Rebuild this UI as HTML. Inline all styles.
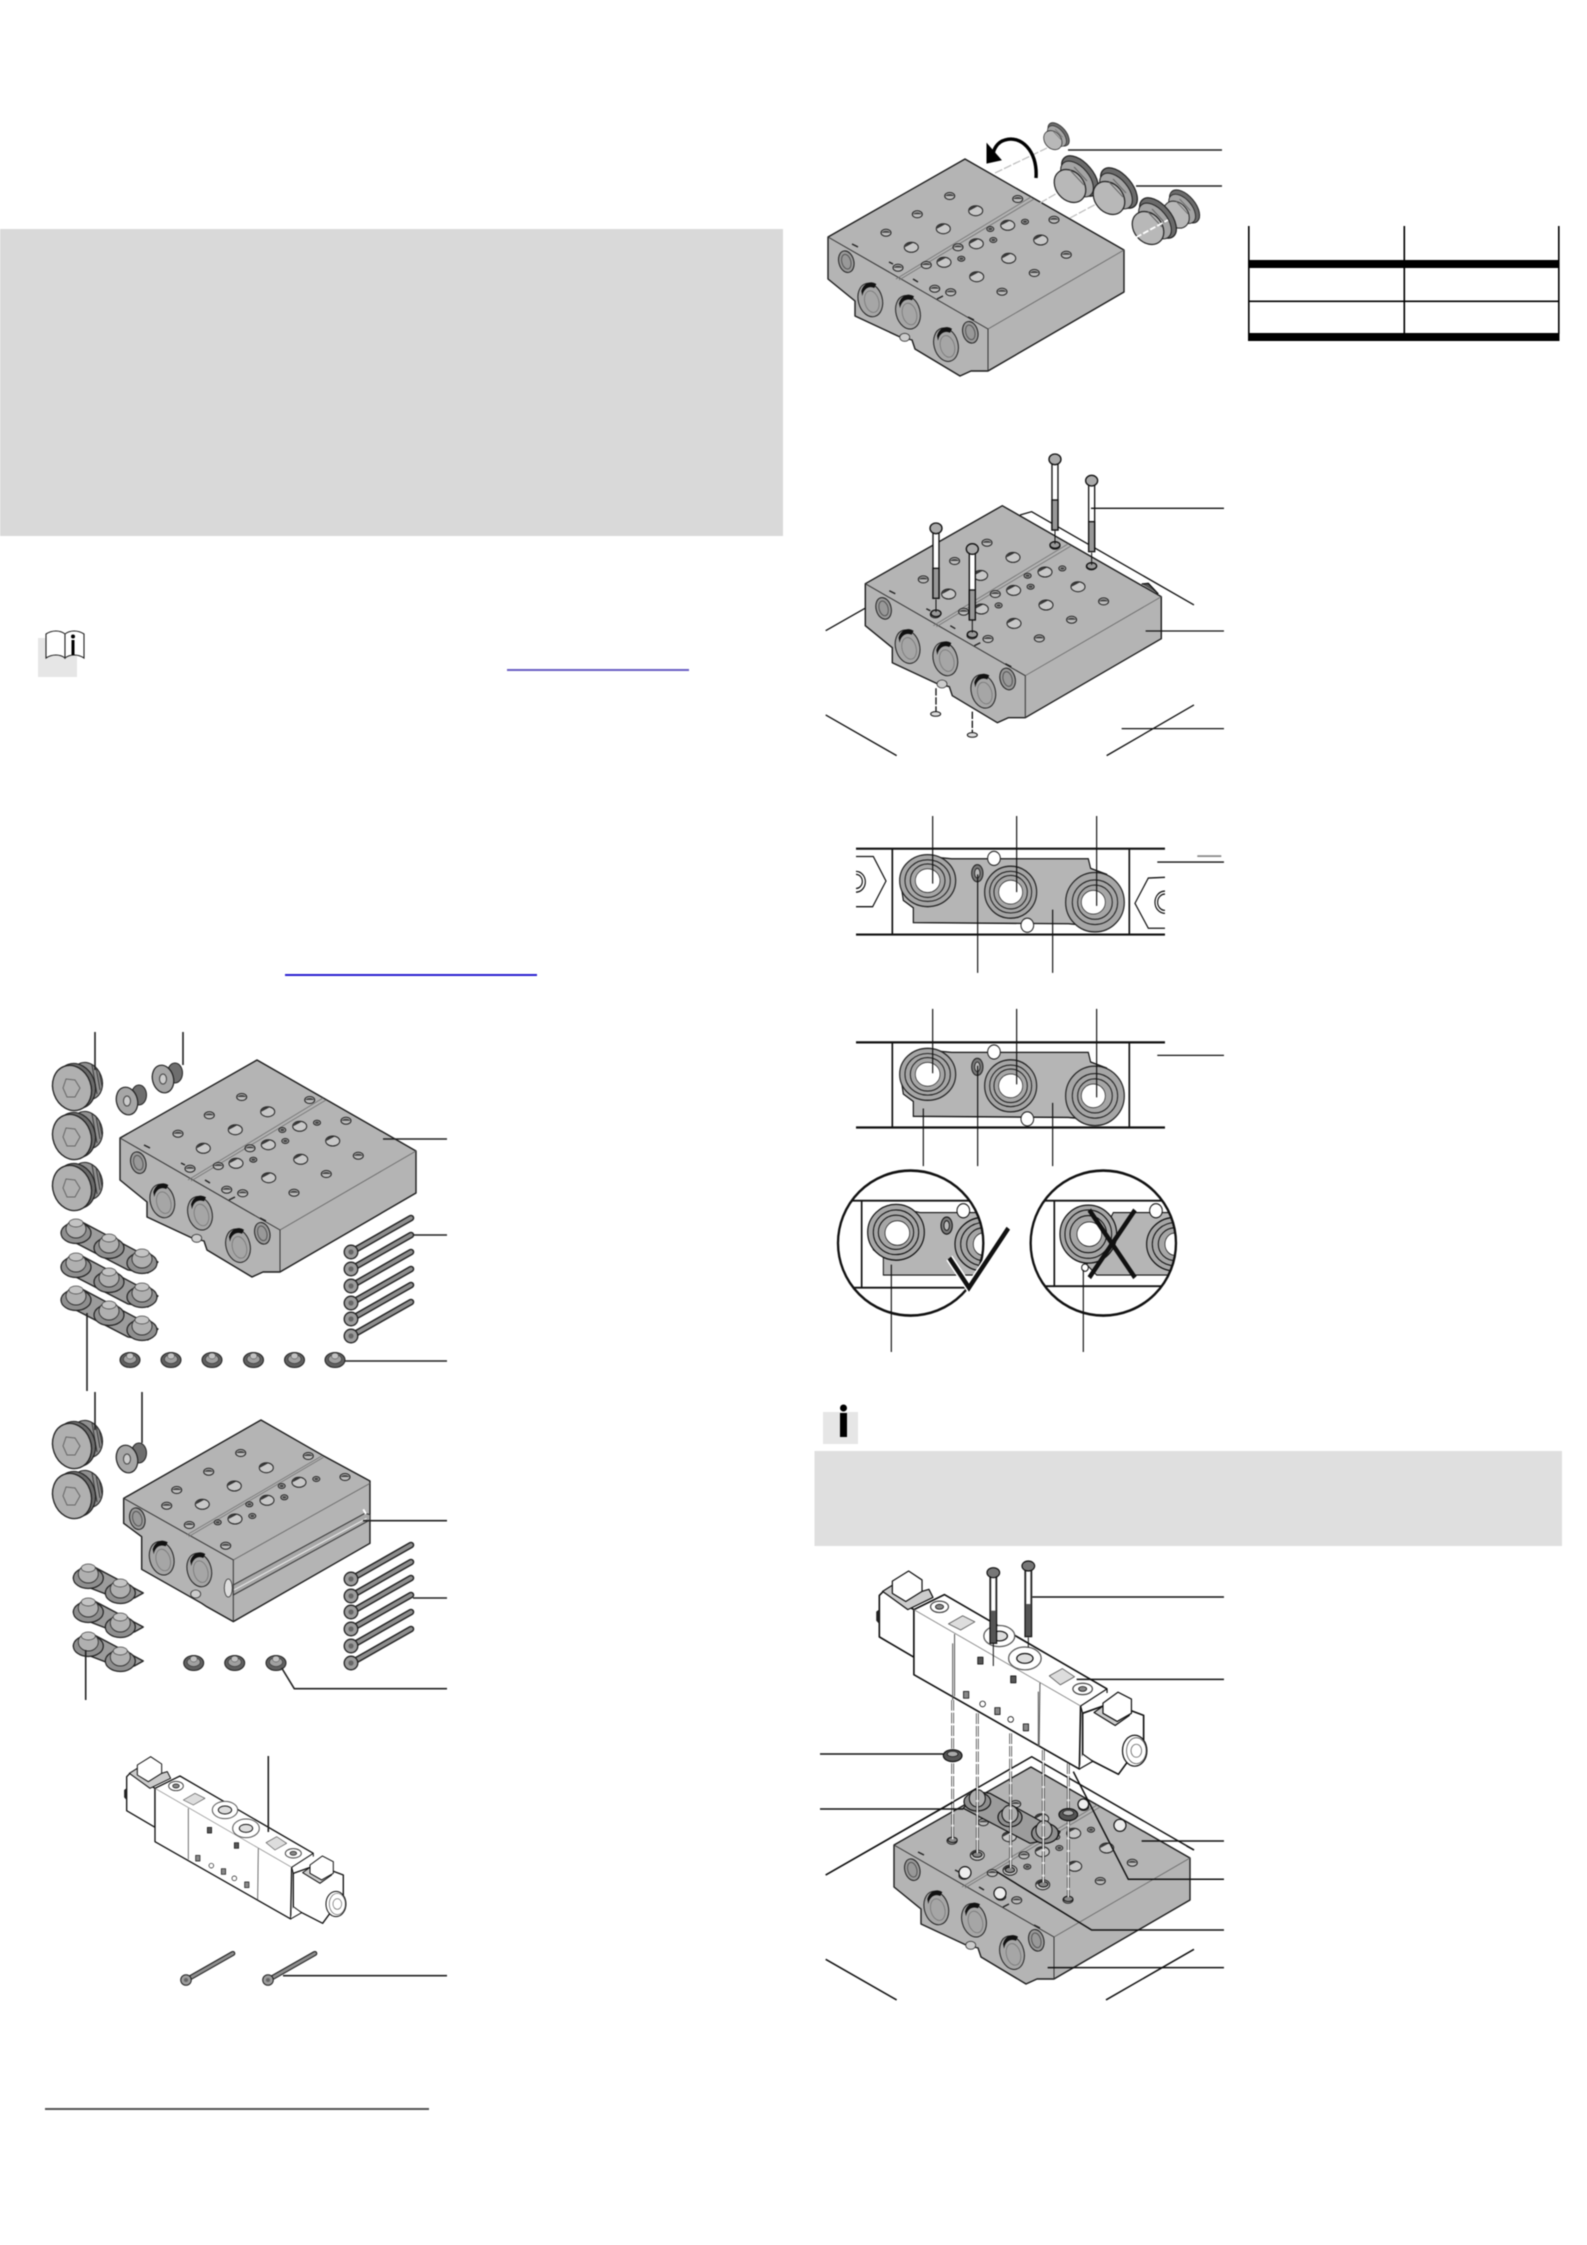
<!DOCTYPE html>
<html><head><meta charset="utf-8"><title>Assembly diagram</title>
<style>html,body{margin:0;padding:0;background:#fff}svg{display:block;filter:blur(.45px)}</style></head>
<body>
<svg xmlns="http://www.w3.org/2000/svg" width="1587" height="2245" viewBox="0 0 1587 2245">
<defs>
<g id="hs"><ellipse rx="5" ry="3.5" fill="#bdbdbd" stroke="#222" stroke-width="1"/><path d="M-4.5,0 A5,3.5 0 0 1 4.5,0 Z" fill="#444"/></g>
<g id="hl"><ellipse rx="7" ry="5" fill="#c8c8c8" stroke="#222" stroke-width="1"/><path d="M-6.5,0 A7,5 0 0 1 2,-4.5 Z" fill="#333"/></g>
<g id="ht"><ellipse rx="3.5" ry="2.5" fill="#aaa" stroke="#222" stroke-width="1"/><ellipse rx="2" ry="1.2" fill="#444"/></g>
<g id="port"><ellipse rx="12" ry="17" transform="rotate(-15)" fill="#a6a6a6" stroke="#222" stroke-width="1"/><path d="M-9,-9 A12,17 -15 0 1 6,-16 L4,-12 A10,14 -15 0 0 -8,-4 Z" fill="#111"/><ellipse cx="1" cy="2" rx="7" ry="11" transform="rotate(-15)" fill="none" stroke="#777" stroke-width=".8"/></g>
<g id="portS"><ellipse rx="7.5" ry="11" transform="rotate(-15)" fill="#999" stroke="#222" stroke-width="1"/><ellipse rx="4.5" ry="7.5" transform="rotate(-15)" fill="none" stroke="#555" stroke-width="1"/></g>
<g id="blockA">
<path d="M0,0 L159,91 L159,133 L23,212 L6,212 L-5,217 L-50,190 L-53,181 L-65,178 L-110,157 L-110,142 L-137,120 L-137,78 Z" fill="#b4b4b4" stroke="#1c1c1c" stroke-width="1.4" stroke-linejoin="round"/>
<path d="M159,91 L23,170" fill="none" stroke="#666" stroke-width=".8"/>
<path d="M23,170 L23,212" stroke="#333" stroke-width="1"/>
<path d="M23,170 L-137,78" fill="none" stroke="#333" stroke-width="1"/>
<path d="M66,38 L-69,120 M69,40 L-66,121" stroke="#777" stroke-width=".9" fill="none"/>
<use href="#hs" x="-15.3" y="37"/><use href="#hs" x="52.7" y="40"/><use href="#hs" x="-47.7" y="55.3"/><use href="#hl" x="10.7" y="51.7"/><use href="#hs" x="-79" y="73.7"/><use href="#hl" x="-21.7" y="69.7"/><use href="#hl" x="-53.7" y="88.3"/><use href="#hs" x="-67" y="108.7"/><use href="#hs" x="89" y="60.7"/><use href="#ht" x="60" y="62.7"/><use href="#hl" x="42.7" y="66.3"/><use href="#ht" x="25.3" y="70"/><use href="#hl" x="75.7" y="81"/><use href="#ht" x="28.3" y="81"/><use href="#hl" x="11.3" y="84.7"/><use href="#hs" x="-7" y="88.3"/><use href="#hs" x="101.3" y="95.7"/><use href="#hl" x="43.7" y="99.3"/><use href="#ht" x="-3.7" y="99.7"/><use href="#hl" x="-21" y="103.3"/><use href="#hs" x="-38.7" y="106"/><use href="#hs" x="69.3" y="114"/><use href="#hl" x="11.7" y="117.7"/><use href="#hs" x="-30.3" y="129.7"/><use href="#hs" x="-14.3" y="133.3"/><use href="#hs" x="37" y="132.7"/>
<use href="#portS" x="-118.7" y="102.7"/><use href="#port" x="-94.7" y="141"/><use href="#port" x="-57" y="153.3"/><use href="#port" x="-19" y="185.7"/><use href="#portS" x="5.3" y="173.3"/>
<ellipse cx="-60.3" cy="178.3" rx="5" ry="4" fill="#ccc" stroke="#333" stroke-width=".8"/>
<path d="M-113,85 l6,3 M3,158 l6,3 M-76,103 l4,2 M-52,120 l5,3 M-28,140 l6,-3" stroke="#222" stroke-width="1.4"/>
</g>
<g id="plugL">
<ellipse cx="15" cy="-7" rx="15" ry="19" transform="rotate(-20 15 -7)" fill="#909090" stroke="#222" stroke-width="1.1"/>
<path d="M20,-23 L25,6 M24,-21 L28,2 M27,-17 L30,-2" stroke="#333" stroke-width=".9"/>
<ellipse cx="4" cy="-2" rx="19" ry="23" transform="rotate(-20 4 -2)" fill="#6a6a6a" stroke="#222" stroke-width="1.1"/>
<ellipse rx="19" ry="23" transform="rotate(-20)" fill="#b0b0b0" stroke="#222" stroke-width="1.3"/>
<path d="M-6,-9 L3,-8 L8,0 L3,9 L-5,9 L-9,0 Z" fill="none" stroke="#666" stroke-width="1"/>
</g>
<g id="plugS">
<ellipse cx="12" cy="-6" rx="7.5" ry="10" fill="#6e6e6e" stroke="#222" stroke-width="1"/>
<ellipse rx="10.5" ry="14" transform="rotate(-15)" fill="#a6a6a6" stroke="#222" stroke-width="1.2"/>
<ellipse rx="3.5" ry="5" fill="#ccc" stroke="#444" stroke-width="1"/>
</g>
<g id="oring"><ellipse rx="10" ry="7.5" fill="#5f5f5f" stroke="#222" stroke-width="1"/><ellipse cy="-1" rx="6.5" ry="4.5" fill="#a0a0a0" stroke="#333" stroke-width=".6"/><ellipse cy="-4" rx="3.5" ry="3" fill="#c2c2c2" stroke="#444" stroke-width=".5"/></g>
<g id="collar"><ellipse cy="5" rx="15" ry="10.5" fill="#8f8f8f" stroke="#222" stroke-width="1.2"/><ellipse cy="1" rx="10" ry="9" fill="#b0b0b0" stroke="#333" stroke-width=".9"/><ellipse cy="-5" rx="7" ry="4" fill="#c4c4c4" stroke="#444" stroke-width=".7"/></g>
<g id="seal3"><path d="M6,-6 L70,28 L82,34 L72,45 L52,42 L-6,12 L-15,5 Z" fill="#9c9c9c" stroke="#222" stroke-width="1.3" stroke-linejoin="round"/><use href="#collar"/><use href="#collar" x="33" y="15"/><use href="#collar" x="66" y="30"/></g>
<g id="seal2"><path d="M6,-6 L40,12 L55,20 L46,25 L33,27 L-6,12 L-15,5 Z" fill="#9c9c9c" stroke="#222" stroke-width="1.3" stroke-linejoin="round"/><use href="#collar"/><use href="#collar" x="32" y="15"/></g>
<g id="screw"><path d="M2,-1 L60,-34" stroke="#222" stroke-width="6.5" stroke-linecap="round"/><path d="M2,-1 L60,-34" stroke="#8e8e8e" stroke-width="3.6" stroke-linecap="round"/><circle r="6.8" fill="#9c9c9c" stroke="#222" stroke-width="1.3"/><circle r="2.6" fill="#666"/></g>
<g id="valve" stroke-linejoin="round">
<path d="M140,110 L150,100 L225,145 L225,262 L140,212 Z" fill="#fff" stroke="#111" stroke-width="4"/>
<path d="M133,150 L140,145 L140,180 L133,172 Z" fill="#222" stroke="#111"/>
<path d="M148,100 L172,85 L212,110 L262,95 L272,115 L210,145 Z" fill="#ccc" stroke="#111" stroke-width="3"/>
<path d="M172,75 L212,50 L245,72 L245,100 L205,125 L172,105 Z" fill="#fff" stroke="#111" stroke-width="3"/>
<path d="M225,145 L300,108 L700,340 L635,382 Z" fill="#fff"/>
<path d="M225,145 L635,382 L632,537 L225,305 Z" fill="#fff"/>
<path d="M225,145 L300,108 L700,340 M225,145 L225,305 L632,537 L635,382" fill="none" stroke="#111" stroke-width="4"/>
<path d="M225,145 L635,382" fill="none" stroke="#888" stroke-width="2"/>
<path d="M325,205 L325,358 M535,325 L533,480" fill="none" stroke="#555" stroke-width="2.5"/>
<path d="M640,400 L710,375 L790,405 L790,465 L728,550 L640,505 Z" fill="#fff" stroke="#111" stroke-width="4"/>
<path d="M635,382 L700,340 L700,350 M640,400 L635,382" fill="none" stroke="#111" stroke-width="3"/>
<path d="M668,398 L700,375 L755,405 L720,430 Z" fill="#ccc" stroke="#111" stroke-width="3"/>
<path d="M690,375 L727,348 L760,365 L760,400 L725,420 L690,400 Z" fill="#fff" stroke="#111" stroke-width="3"/>
<path d="M632,537 L665,518 L640,500" fill="#fff" stroke="#111" stroke-width="3"/>
<ellipse cx="768" cy="492" rx="30" ry="38" fill="#fff" stroke="#111" stroke-width="3"/>
<ellipse cx="772" cy="492" rx="24" ry="32" fill="#fff" stroke="#555" stroke-width="2"/>
<ellipse cx="772" cy="492" rx="13" ry="16" fill="#fff" stroke="#666" stroke-width="2"/>
<ellipse cx="435" cy="210" rx="38" ry="26" fill="#fff" stroke="#555" stroke-width="3"/><ellipse cx="435" cy="210" rx="20" ry="12" fill="#ddd" stroke="#111" stroke-width="3"/>
<ellipse cx="498" cy="265" rx="40" ry="28" fill="#fff" stroke="#555" stroke-width="3"/><ellipse cx="498" cy="265" rx="20" ry="12" fill="#ddd" stroke="#111" stroke-width="3"/>
<ellipse cx="288" cy="138" rx="22" ry="14" fill="#fff" stroke="#444" stroke-width="3"/><ellipse cx="288" cy="138" rx="10" ry="6" fill="#888" stroke="#111" stroke-width="2"/>
<ellipse cx="640" cy="340" rx="24" ry="14" fill="#fff" stroke="#444" stroke-width="3"/><ellipse cx="640" cy="340" rx="10" ry="6" fill="#888" stroke="#111" stroke-width="2"/>
<path d="M310,180 L345,160 L375,175 L340,195 Z M558,308 L590,290 L620,310 L585,330 Z" fill="#ddd" stroke="#555" stroke-width="2"/>
<rect x="347" y="346" width="13" height="17" fill="#888" stroke="#111" stroke-width="2"/><rect x="424" y="386" width="13" height="17" fill="#888" stroke="#111" stroke-width="2"/><rect x="494" y="426" width="13" height="17" fill="#888" stroke="#111" stroke-width="2"/><rect x="463" y="308" width="13" height="17" fill="#555" stroke="#111" stroke-width="2"/><rect x="382" y="262" width="13" height="17" fill="#555" stroke="#111" stroke-width="2"/>
<circle cx="394" cy="377" r="7" fill="#fff" stroke="#111" stroke-width="2"/><circle cx="463" cy="415" r="7" fill="#fff" stroke="#111" stroke-width="2"/>
</g>
<g id="gplate">
<path d="M395,28 L805,28 L812,54 L860,70 L905,140 L860,205 L770,205 L745,203 L280,200 L280,160 L250,140 L240,80 L300,20 Z" fill="#b5b5b5" stroke="#111" stroke-width="3.5"/>
<ellipse cx="323" cy="87" rx="84" ry="70" fill="#a6a6a6" stroke="#222" stroke-width="3.5"/><ellipse cx="323" cy="87" rx="68" ry="56" fill="none" stroke="#222" stroke-width="3"/><ellipse cx="323" cy="87" rx="52" ry="45" fill="none" stroke="#222" stroke-width="3"/><ellipse cx="323" cy="87" rx="37" ry="32" fill="#fff" stroke="#222" stroke-width="2"/>
<ellipse cx="572" cy="118" rx="78" ry="70" fill="#a6a6a6" stroke="#222" stroke-width="3.5"/><ellipse cx="572" cy="118" rx="63" ry="56" fill="none" stroke="#222" stroke-width="3"/><ellipse cx="572" cy="118" rx="50" ry="45" fill="none" stroke="#222" stroke-width="3"/><ellipse cx="572" cy="118" rx="36" ry="32" fill="#fff" stroke="#222" stroke-width="2"/>
<ellipse cx="825" cy="145" rx="88" ry="80" fill="#a6a6a6" stroke="#222" stroke-width="3.5"/><ellipse cx="825" cy="145" rx="68" ry="60" fill="none" stroke="#222" stroke-width="3"/><ellipse cx="825" cy="145" rx="52" ry="46" fill="none" stroke="#222" stroke-width="3"/><ellipse cx="820" cy="145" rx="36" ry="32" fill="#fff" stroke="#222" stroke-width="2"/>
<circle cx="522" cy="27" r="19" fill="#fff" stroke="#222" stroke-width="3"/><circle cx="622" cy="207" r="19" fill="#fff" stroke="#222" stroke-width="3"/>
<ellipse cx="472" cy="67" rx="17" ry="23" fill="#777" stroke="#222" stroke-width="3"/><ellipse cx="472" cy="67" rx="8" ry="13" fill="#bbb" stroke="#222" stroke-width="2.5"/>
</g>
<g id="plugBig">
<ellipse cx="8" cy="-8" rx="13" ry="24" transform="rotate(-40 8 -8)" fill="#6a6a6a" stroke="#222" stroke-width="1.2"/>
<ellipse cx="5" cy="-5" rx="12" ry="21" transform="rotate(-40 5 -5)" fill="#a4a4a4" stroke="#222" stroke-width="1"/>
<ellipse cx="-2" cy="2" rx="14" ry="18" transform="rotate(-40 -2 2)" fill="#b8b8b8" stroke="#222" stroke-width="1.2"/>
<path d="M-2,-14 L12,1 M2,-17 L15,-3" stroke="#666" stroke-width="1"/>
</g>
<clipPath id="c1"><ellipse cx="272" cy="1192" rx="216" ry="193"/></clipPath>
<clipPath id="c2"><ellipse cx="850" cy="1192" rx="216" ry="193"/></clipPath>
</defs>

<rect x="0" y="229" width="783" height="307" fill="#d9d9d9"/>
<rect x="38" y="638" width="39" height="39" fill="#e6e6e6"/>
<g fill="#fff" stroke="#222" stroke-width="1.1"><path d="M65,658 C60,654 52,654 46,658 L46,634 C52,630 60,630 65,634 Z"/><path d="M65,658 C70,654 78,654 84,658 L84,634 C78,630 70,630 65,634 Z"/></g>
<rect x="71.5" y="640" width="3" height="15" fill="#000"/><circle cx="73" cy="636.5" r="2" fill="#000"/>
<rect x="507" y="669" width="182" height="2" fill="#6a5fc4"/>
<rect x="285" y="974" width="252" height="2" fill="#2a20d0"/>
<rect x="45" y="2108" width="384" height="2" fill="#555"/>

<!-- left top block -->
<use href="#blockA" x="257" y="1060"/>
<use href="#plugL" x="72" y="1088"/><use href="#plugL" x="72" y="1137"/><use href="#plugL" x="72" y="1188"/>
<use href="#plugS" x="163" y="1079"/><use href="#plugS" x="127" y="1101"/>
<use href="#seal3" x="76" y="1228"/><use href="#seal3" x="76" y="1262"/><use href="#seal3" x="76" y="1295"/>
<use href="#screw" x="351" y="1252"/><use href="#screw" x="351" y="1269"/><use href="#screw" x="351" y="1286"/><use href="#screw" x="351" y="1303"/><use href="#screw" x="351" y="1319"/><use href="#screw" x="351" y="1336"/>
<use href="#oring" x="130" y="1360"/><use href="#oring" x="171" y="1360"/><use href="#oring" x="212" y="1360"/><use href="#oring" x="253.5" y="1360"/><use href="#oring" x="294.5" y="1360"/><use href="#oring" x="335" y="1360"/>

<!-- left second block -->
<g transform="translate(30,1420) scale(.3333)">
<path d="M693,0 L878,106 L1020,183 L1020,370 L610,605 L530,560 L515,550 L335,448 L335,350 L281,310 L281,235 Z" fill="#b4b4b4" stroke="#1c1c1c" stroke-width="4.2" stroke-linejoin="round"/>
<path d="M1020,190 L610,420" fill="none" stroke="#666" stroke-width="2.5"/>
<path d="M610,420 L281,235" fill="none" stroke="#333" stroke-width="3"/>
<path d="M610,420 L610,605" stroke="#333" stroke-width="3"/>
<path d="M875,108 L470,345 M880,112 L476,350" stroke="#777" stroke-width="2.6"/>
<path d="M610,495 L1005,280 L1020,284 L1020,300 L610,525 Z" fill="#a8a8a8" stroke="#333" stroke-width="3"/>
<path d="M612,510 L1010,295" stroke="#eee" stroke-width="3"/>
<path d="M1000,268 l8,14" stroke="#fff" stroke-width="6"/>
</g>
<use href="#hs" x="240.7" y="1453"/><use href="#hs" x="308.3" y="1456"/><use href="#hs" x="208.7" y="1471.7"/><use href="#hl" x="266.3" y="1467.7"/><use href="#hs" x="176.7" y="1490"/><use href="#hl" x="234.3" y="1486"/><use href="#hl" x="202.3" y="1504.3"/><use href="#hs" x="166.7" y="1505.7"/><use href="#hs" x="189.3" y="1525"/><use href="#hs" x="345" y="1477"/><use href="#ht" x="316.3" y="1479"/><use href="#hl" x="299" y="1482.3"/><use href="#ht" x="281.7" y="1486"/><use href="#hl" x="267" y="1500.3"/><use href="#ht" x="284.3" y="1497.3"/><use href="#ht" x="249.3" y="1504.3"/><use href="#hl" x="235" y="1519"/><use href="#ht" x="252.3" y="1516"/><use href="#ht" x="217.7" y="1522.3"/><use href="#hs" x="225.7" y="1545.7"/>
<use href="#portS" x="137.3" y="1518.7"/><use href="#port" x="161.7" y="1558.3"/><use href="#port" x="199.3" y="1570"/>
<ellipse cx="195.7" cy="1594" rx="5" ry="4" fill="#ccc" stroke="#333" stroke-width=".8"/><ellipse cx="228.3" cy="1588" rx="4" ry="9" fill="#ddd" stroke="#333" stroke-width=".8"/>
<use href="#plugL" x="72" y="1446"/><use href="#plugL" x="72" y="1496"/><use href="#plugS" x="127" y="1459"/>
<use href="#seal2" x="88.3" y="1573"/><use href="#seal2" x="88.3" y="1607"/><use href="#seal2" x="88.3" y="1641"/>
<use href="#screw" x="351" y="1579"/><use href="#screw" x="351" y="1596"/><use href="#screw" x="351" y="1612"/><use href="#screw" x="351" y="1629"/><use href="#screw" x="351" y="1646"/><use href="#screw" x="351" y="1663"/>
<use href="#oring" x="193.7" y="1663"/><use href="#oring" x="234.7" y="1663"/><use href="#oring" x="276" y="1663"/>

<!-- left valve -->
<use href="#valve" transform="translate(80,1740) scale(.3333)"/>
<use href="#screw" transform="translate(186,1980) scale(.78)"/><use href="#screw" transform="translate(268,1980) scale(.78)"/>

<!-- left leaders -->
<g stroke="#222" stroke-width="1.6" fill="none">
<path d="M95,1032 V1070 M183,1032 V1065 M383,1139 H447 M413,1235 H447 M345,1361 H447 M87,1313 V1391"/>
<path d="M95,1392 V1430 M142,1392 V1443"/>
<path d="M363,1520.7 H447 M413,1598 H447 M281.7,1668 L294.3,1688.7 H447 M85.7,1650 V1700"/>
<path d="M268.3,1756 V1832 M283,1975.7 H447"/>
</g>

<!-- right top block -->
<use href="#blockA" x="965" y="159"/>
<g stroke="#bbb" stroke-width="1.2" fill="none" stroke-dasharray="8 2"><path d="M995,173 L1047,148 M1040,203 L1066,188 M1070,218 L1100,202"/></g>
<use href="#plugBig" transform="translate(1054,139) scale(.58)"/>
<use href="#plugBig" x="1072" y="184"/>
<use href="#plugBig" x="1111" y="196"/>
<use href="#plugBig" transform="translate(1178,213) scale(.82)"/>
<use href="#plugBig" x="1150" y="226"/>
<path d="M1122,245 L1168,220" stroke="#fff" stroke-width="1.8" stroke-dasharray="6 2"/>
<path d="M1036,178 C1038,150 1020,135 1005,140 C997,142 993,150 993,156" fill="none" stroke="#000" stroke-width="3.4"/>
<path d="M987,144 L1001,160 L987,163 Z" fill="#000" stroke="#000"/>
<path d="M1068,150 H1222 M1136,186 H1222" stroke="#222" stroke-width="1.6"/>

<!-- table -->
<g fill="#000"><rect x="1248" y="226" width="1.6" height="108"/><rect x="1403.5" y="226" width="1.6" height="108"/><rect x="1558" y="226" width="1.6" height="108"/><rect x="1248" y="260" width="311.5" height="8"/><rect x="1248" y="300.5" width="311.5" height="1.6"/><rect x="1248" y="333" width="311.5" height="8"/></g>

<!-- right second block (screws) -->
<g transform="translate(820,440) scale(.3333)" fill="none" stroke="#111" stroke-width="4.5">
<path d="M600,225 L635,215 L1122,495" stroke-width="4"/>
<path d="M965,432 L985,430 L1015,462" fill="#555" stroke-width="4"/>
</g>
<use href="#blockA" x="1002.3" y="505.7"/>
<g transform="translate(820,440) scale(.3333)" stroke="#111" stroke-width="4">
<g fill="#fff">
<ellipse cx="705" cy="315" rx="15" ry="10" fill="#999"/><ellipse cx="815" cy="378" rx="15" ry="10" fill="#999"/><ellipse cx="348" cy="520" rx="15" ry="10" fill="#999"/><ellipse cx="457" cy="583" rx="15" ry="10" fill="#999"/>
<rect x="696" y="70" width="18" height="200"/><rect x="806" y="134" width="18" height="200"/><rect x="339" y="277" width="18" height="198"/><rect x="448" y="340" width="18" height="198"/>
<rect x="696" y="180" width="18" height="90" fill="#999"/><rect x="806" y="245" width="18" height="90" fill="#999"/><rect x="339" y="385" width="18" height="90" fill="#999"/><rect x="448" y="450" width="18" height="90" fill="#999"/>
<ellipse cx="705" cy="58" rx="18" ry="16" fill="#aaa"/><ellipse cx="815" cy="122" rx="18" ry="16" fill="#aaa"/><ellipse cx="348" cy="265" rx="18" ry="16" fill="#aaa"/><ellipse cx="457" cy="327" rx="18" ry="16" fill="#aaa"/>
</g>
<path d="M705,272 V312 M815,338 V375 M348,478 V516 M457,540 V578" stroke-width="3"/>
<path d="M348,745 V815 M457,815 V878" stroke-width="4" stroke-dasharray="22 5"/>
<ellipse cx="347" cy="822" rx="15" ry="7" fill="#ddd" stroke-width="3"/><ellipse cx="457" cy="885" rx="15" ry="7" fill="#ddd" stroke-width="3"/>
<path d="M17,572 L135,505 M17,825 L230,947 M860,947 L1122,795 M905,866 H1212 M813,205 H1212 M977,573 H1212" fill="none"/>
</g>

<!-- plate diagrams -->
<g transform="translate(820,800) scale(.3333,.3717)" stroke="#111">
<path d="M108,131 H1035 M108,362 H1035" stroke-width="6"/>
<path d="M217,131 V362 M928,131 V362" stroke-width="5"/>
<path d="M108,152 H160 L198,218 L158,287 H108" fill="#fff" stroke-width="3.5"/>
<path d="M108,192 A28,28 0 0 1 108,248 M108,200 A18,18 0 0 1 108,238" fill="none" stroke-width="3.5"/>
<path d="M1035,208 L985,210 L945,278 L985,345 L1035,345" fill="#fff" stroke-width="3.5"/>
<path d="M1035,245 A30,30 0 0 0 1035,305 M1035,253 A20,20 0 0 0 1035,297" fill="none" stroke-width="3.5"/>
<g transform="translate(0,130)"><use href="#gplate"/></g>
<g transform="translate(0,651)"><use href="#gplate"/></g>
<path d="M108,652 H1035 M108,881 H1035" stroke-width="6"/>
<path d="M217,652 V881 M928,652 V881" stroke-width="5"/>
<g stroke-width="3.5" fill="none">
<path d="M338,43 V225 M590,43 V248 M830,43 V285 M473,200 V465 M698,295 V465 M1012,167 H1212"/>
<path d="M338,562 V735 M590,562 V765 M830,562 V800 M310,830 V985 M473,715 V985 M698,815 V985 M1012,687 H1212"/>
</g>
<path d="M1132,151 H1204" stroke="#888" stroke-width="5"/>
<!-- left circle -->
<g clip-path="url(#c1)">
<path d="M50,1078 H490 M50,1312 H490" stroke-width="5" fill="none"/><path d="M125,1078 V1312" stroke-width="5"/>
<path d="M300,1110 H500 V1278 H190 V1230 L160,1210 L150,1160 L220,1095 Z" fill="#b5b5b5" stroke-width="3"/>
<ellipse cx="228" cy="1163" rx="85" ry="75" fill="#a6a6a6" stroke-width="3.5"/><ellipse cx="228" cy="1163" rx="68" ry="60" fill="none" stroke-width="3"/><ellipse cx="228" cy="1163" rx="53" ry="46" fill="none" stroke-width="3"/><ellipse cx="232" cy="1165" rx="37" ry="33" fill="#fff" stroke-width="2"/>
<ellipse cx="490" cy="1195" rx="85" ry="72" fill="#a6a6a6" stroke-width="3.5"/><ellipse cx="490" cy="1195" rx="68" ry="58" fill="none" stroke-width="3"/><ellipse cx="490" cy="1195" rx="50" ry="44" fill="none" stroke-width="3"/><ellipse cx="490" cy="1195" rx="30" ry="30" fill="#fff" stroke-width="2"/>
<circle cx="430" cy="1105" r="19" fill="#fff" stroke-width="3"/>
<ellipse cx="380" cy="1145" rx="17" ry="23" fill="#777" stroke-width="3"/><ellipse cx="380" cy="1145" rx="8" ry="13" fill="#bbb" stroke-width="2.5"/>
</g>
<ellipse cx="272" cy="1192" rx="218" ry="195" fill="none" stroke-width="7"/>
<path d="M388,1232 L447,1312 L565,1152" fill="none" stroke="#fff" stroke-width="22"/>
<path d="M388,1232 L447,1312 L565,1152" fill="none" stroke="#111" stroke-width="13"/>
<path d="M214,1250 V1485" stroke-width="3.5"/>
<!-- right circle -->
<g clip-path="url(#c2)">
<path d="M620,1078 H1075 M620,1308 H1075" stroke-width="5" fill="none"/><path d="M703,1078 V1308" stroke-width="5"/>
<path d="M880,1110 H1075 V1278 H830 L800,1250 Z" fill="#b5b5b5" stroke-width="3"/>
<ellipse cx="805" cy="1168" rx="85" ry="78" fill="#a6a6a6" stroke-width="3.5"/><ellipse cx="805" cy="1168" rx="70" ry="65" fill="none" stroke-width="3"/><ellipse cx="805" cy="1168" rx="55" ry="50" fill="none" stroke-width="3"/><ellipse cx="808" cy="1168" rx="37" ry="33" fill="#fff" stroke-width="2"/>
<ellipse cx="1065" cy="1195" rx="85" ry="72" fill="#a6a6a6" stroke-width="3.5"/><ellipse cx="1065" cy="1195" rx="68" ry="58" fill="none" stroke-width="3"/><ellipse cx="1065" cy="1195" rx="50" ry="44" fill="none" stroke-width="3"/><ellipse cx="1065" cy="1195" rx="30" ry="30" fill="#fff" stroke-width="2"/>
<circle cx="1008" cy="1105" r="19" fill="#fff" stroke-width="3"/>
<circle cx="795" cy="1258" r="10" fill="#fff" stroke-width="3"/>
</g>
<ellipse cx="850" cy="1192" rx="218" ry="195" fill="none" stroke-width="7"/>
<path d="M808,1103 L945,1285 M945,1103 L808,1285" stroke-width="13"/>
<path d="M790,1264 V1485" stroke-width="3.5"/>
</g>

<!-- info note -->
<rect x="823" y="1412" width="35" height="32" fill="#e6e6e6"/>
<rect x="840" y="1413" width="7" height="24" fill="#000"/><circle cx="843.5" cy="1408" r="3.5" fill="#000"/>
<rect x="814.5" y="1451" width="747.5" height="95" fill="#dfdfdf"/>

<!-- right bottom assembly -->
<path d="M825.7,1875 L1031.7,1756.7 L1194,1850" fill="none" stroke="#111" stroke-width="1.5"/>
<use href="#blockA" x="1031" y="1767"/>
<g transform="translate(820,1560) scale(.3333)" stroke="#111">
<g fill="#eee" stroke-width="3.5">
<ellipse cx="790" cy="733" rx="16" ry="16"/><ellipse cx="900" cy="796" rx="18" ry="18"/><ellipse cx="435" cy="938" rx="18" ry="18"/><ellipse cx="540" cy="1000" rx="18" ry="18"/>
</g>
<path d="M430,745 L470,695 L510,700 L720,815 L710,835 L630,850 L430,745 Z" fill="#9c9c9c" stroke-width="3.5"/>
<g fill="#8f8f8f" stroke-width="3.5">
<ellipse cx="472" cy="725" rx="40" ry="28"/><ellipse cx="570" cy="772" rx="36" ry="28"/><ellipse cx="675" cy="820" rx="40" ry="30"/>
</g>
<g fill="#b0b0b0" stroke-width="3"><ellipse cx="472" cy="715" rx="24" ry="26"/><ellipse cx="570" cy="762" rx="24" ry="26"/><ellipse cx="672" cy="810" rx="24" ry="28"/></g>
<g fill="#888" stroke-width="3"><ellipse cx="398" cy="840" rx="14" ry="8"/><ellipse cx="472" cy="884" rx="14" ry="8"/><ellipse cx="570" cy="930" rx="14" ry="8"/><ellipse cx="670" cy="973" rx="14" ry="8"/><ellipse cx="745" cy="1017" rx="14" ry="8"/></g>
<g fill="none">
<path d="M398,420 V838 M472,460 V880 M572,520 V925 M670,570 V968 M745,610 V1012" stroke="#222" stroke-width="8" stroke-dasharray="32 6"/>
<path d="M398,420 V838 M472,460 V880 M572,520 V925 M670,570 V968 M745,610 V1012" stroke="#fff" stroke-width="4"/>
</g>
<ellipse cx="398" cy="587" rx="28" ry="18" fill="#555" stroke-width="3.5"/><ellipse cx="398" cy="582" rx="16" ry="8" fill="#aaa" stroke-width="2"/>
<ellipse cx="745" cy="764" rx="28" ry="18" fill="#555" stroke-width="3.5"/><ellipse cx="745" cy="759" rx="16" ry="8" fill="#aaa" stroke-width="2"/>
<g transform="translate(7.2,-28) scale(1.22)"><use href="#valve"/></g>
<path d="M398,250 V420 M655,395 V560" stroke="#555" stroke-width="3" fill="none"/>
<g fill="#555" stroke-width="3.5">
<rect x="510" y="50" width="20" height="200"/><rect x="615" y="30" width="20" height="200"/>
<rect x="514" y="52" width="12" height="100" fill="#fff" stroke-width="0"/><rect x="619" y="32" width="12" height="100" fill="#fff" stroke-width="0"/>
<ellipse cx="520" cy="38" rx="19" ry="15" fill="#777"/><ellipse cx="625" cy="18" rx="19" ry="15" fill="#777"/>
</g>
<path d="M520,250 V318 M625,232 V262" stroke-width="3"/>
<g fill="none" stroke-width="4.5">
<path d="M637,111 H1212 M770,358 H1212 M0,582 H370 M0,747 H430 M965,843 H1212"/>
<path d="M760,635 L925,958 H1212 M530,935 L815,1110 H1212 M683,1223 H1212"/>
<path d="M17,945 L400,726 M17,1198 L230,1320 M858,1320 L1122,1168"/>
<path d="M1100,858 L1122,870"/>
</g>
</g>
</svg>
</body></html>
